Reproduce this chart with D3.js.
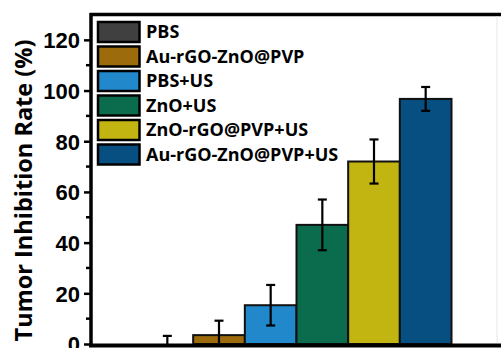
<!DOCTYPE html>
<html lang="en">
<head>
<meta charset="utf-8">
<title>Tumor inhibition rate</title>
<script src="https://d3js.org/d3.v7.min.js"></script>
<style>
  body { margin: 0; background: #fff; }
  svg { display: block; font-family: "Open Sans", sans-serif; }
  .axis text { font-weight: bold; font-size: 22px; fill: #000; }
  .legend text { font-weight: bold; font-size: 18px; fill: #000; }
</style>
</head>
<body>
<div id="chart"></div>
<script>
// groups, values (%), error (sd), colours
var groups = ["PBS", "Au-rGO-ZnO@PVP", "PBS+US", "ZnO+US", "ZnO-rGO@PVP+US", "Au-rGO-ZnO@PVP+US"];
var values = [0, 3.5, 15.3, 47, 72, 96.7];
var errors = [3.2, 5.7, 8, 10, 8.7, 4.7];
var colors = ["#404040", "#9c6c0c", "#2188cb", "#0b6b4d", "#c2b512", "#074f80"];
var yTicks = [0, 20, 40, 60, 80, 100, 120];

var w = 501, h = 348;
var svg = d3.select("#chart").append("svg")
  .attr("width", w).attr("height", h);

var data = groups.map(function(g, i) {
  return { name: g, value: values[i], err: errors[i], color: colors[i] };
});

var yScale = d3.scaleLinear().domain([0, 130]).range([344, 14.5]);
var xScale = d3.scaleBand().domain(groups).range([141.5, 451.5]).padding(0);

// bars
svg.selectAll("rect.bar")
  .data(data)
  .enter()
  .append("rect")
  .attr("class", "bar")
  .attr("x", function(d) { return xScale(d.name); })
  .attr("y", function(d) { return yScale(d.value); })
  .attr("width", xScale.bandwidth())
  .attr("height", function(d) { return yScale(0) - yScale(d.value); })
  .attr("fill", function(d) { return d.color; })
  .attr("stroke", "#111")
  .attr("stroke-width", 2);

// error bars
var eb = svg.selectAll("g.err").data(data).enter().append("g").attr("class", "err");
eb.append("line")
  .attr("x1", function(d) { return xScale(d.name) + xScale.bandwidth() / 2; })
  .attr("x2", function(d) { return xScale(d.name) + xScale.bandwidth() / 2; })
  .attr("y1", function(d) { return yScale(d.value + d.err); })
  .attr("y2", function(d) { return Math.min(yScale(0), yScale(d.value - d.err)); })
  .attr("stroke", "#000").attr("stroke-width", 2.2);
[1, -1].forEach(function(s) {
  eb.append("line")
    .attr("x1", function(d) { return xScale(d.name) + xScale.bandwidth() / 2 - 4.5; })
    .attr("x2", function(d) { return xScale(d.name) + xScale.bandwidth() / 2 + 4.5; })
    .attr("y1", function(d) { return yScale(d.value + s * d.err); })
    .attr("y2", function(d) { return yScale(d.value + s * d.err); })
    .attr("stroke", "#000").attr("stroke-width", 2.2)
    .attr("display", function(d) { return d.value + s * d.err < 0 ? "none" : null; });
});

// frame lines
svg.append("line").attr("x1", 90).attr("x2", w).attr("y1", 14.5).attr("y2", 14.5)
  .attr("stroke", "#000").attr("stroke-width", 3.5);
svg.append("line").attr("x1", 497).attr("x2", 497).attr("y1", 16).attr("y2", 343)
  .attr("stroke", "#e6e6e6").attr("stroke-width", 1);
svg.append("line").attr("x1", 89).attr("x2", w).attr("y1", 345.5).attr("y2", 345.5)
  .attr("stroke", "#000").attr("stroke-width", 4);

// minor ticks
var minor = d3.range(10, 130, 20);
svg.selectAll("line.minor").data(minor).enter().append("line")
  .attr("class", "minor")
  .attr("x1", 86).attr("x2", 91)
  .attr("y1", function(d) { return yScale(d); })
  .attr("y2", function(d) { return yScale(d); })
  .attr("stroke", "#000").attr("stroke-width", 2.5);

// y axis
var yAxis = d3.axisLeft(yScale).tickValues(yTicks).tickSize(7).tickPadding(4);
var ax = svg.append("g")
  .attr("class", "axis")
  .attr("transform", "translate(91,0)")
  .call(yAxis);
ax.select(".domain").attr("stroke", "#000").attr("stroke-width", 3.5)
  .attr("d", "M0,13V347");
ax.selectAll(".tick line").attr("stroke", "#000").attr("stroke-width", 2.5);
ax.selectAll(".tick text").attr("dy", "0.36em");

// y title
svg.append("text")
  .attr("transform", "translate(32,190.5) rotate(-90)")
  .attr("text-anchor", "middle")
  .style("font-weight", "bold")
  .style("font-size", "23.5px")
  .text("Tumor Inhibition Rate (%)");

// legend
var lg = svg.append("g").attr("class", "legend");
var items = lg.selectAll("g").data(data).enter().append("g")
  .attr("transform", function(d, i) { return "translate(0," + (22 + i * 24.5) + ")"; });
items.append("rect")
  .attr("x", 98).attr("y", 0).attr("width", 41.5).attr("height", 20)
  .attr("fill", function(d) { return d.color; })
  .attr("stroke", "#000").attr("stroke-width", 2.5);
items.append("text")
  .attr("x", 146).attr("y", 10).attr("dy", "0.36em")
  .text(function(d) { return d.name; });
</script>
</body>
</html>
